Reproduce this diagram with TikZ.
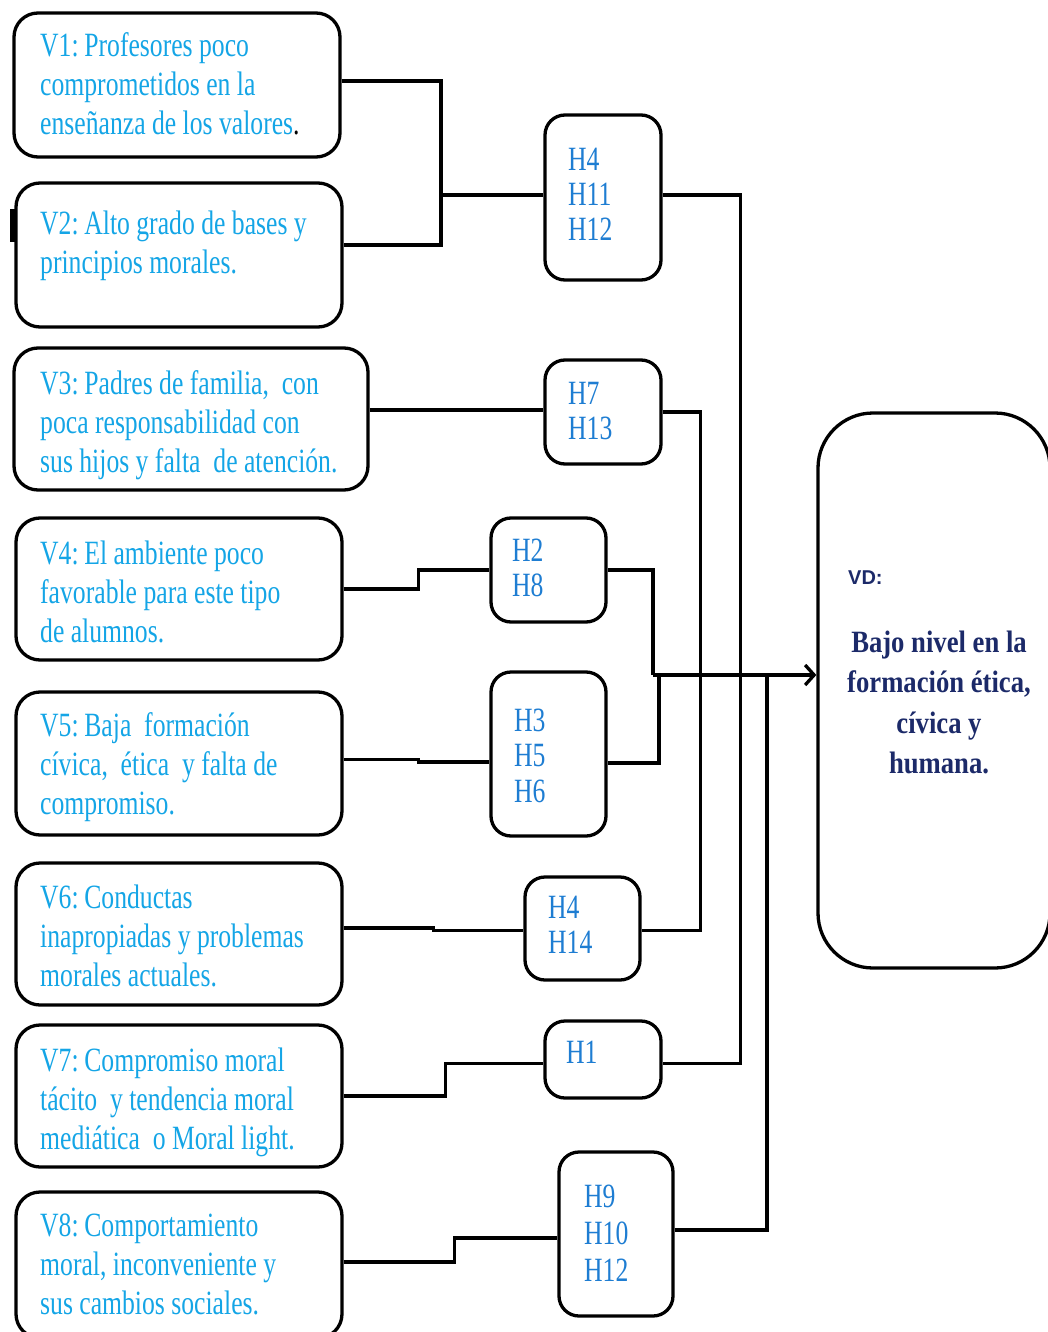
\documentclass[tikz,border=0pt]{standalone}
\usepackage{fontspec}
\setmainfont{Liberation Serif}
\newfontfamily\condserif[FakeStretch=0.755]{Liberation Serif}
\newfontfamily\condbold[FakeStretch=0.86]{Liberation Serif Bold}
\newfontfamily\vdsans{Liberation Sans Bold}
\usetikzlibrary{arrows.meta,calc}
\definecolor{vblue}{RGB}{20,165,230}
\definecolor{hblue}{RGB}{30,125,210}
\definecolor{navy}{RGB}{28,42,105}
\begin{document}
\begin{tikzpicture}[x=1pt,y=-1pt,
  vbox/.style={draw, line width=3.3pt, rounded corners=24pt, inner sep=0pt},
  hbox/.style={draw, line width=3.3pt, rounded corners=20pt, inner sep=0pt},
  conn/.style={line width=3.3pt},
  vtext/.style={anchor=base west, inner sep=0pt, text=vblue, font=\condserif\fontsize{34}{39}\selectfont},
  htext/.style={anchor=base west, inner sep=0pt, text=hblue, font=\condserif\fontsize{34}{35}\selectfont}]
\useasboundingbox (0,0) rectangle (1047,1332);

% left boxes
\node[vbox, minimum width=326pt, minimum height=144pt] (v1) at (177,85) {};
\node[vbox, minimum width=326pt, minimum height=144pt] (v2) at (179,255) {};
\node[vbox, minimum width=354pt, minimum height=142pt] (v3) at (191,419) {};
\node[vbox, minimum width=326pt, minimum height=142pt] (v4) at (179,589) {};
\node[vbox, minimum width=326pt, minimum height=143pt] (v5) at (179,763.5) {};
\node[vbox, minimum width=326pt, minimum height=142pt] (v6) at (179,934) {};
\node[vbox, minimum width=326pt, minimum height=142pt] (v7) at (179,1096) {};
\node[vbox, minimum width=326pt, minimum height=146pt] (v8) at (179,1265) {};
\fill (10,209) rectangle (15,242);

\node[vtext] (t1) at (40,57) {\parbox[t]{330pt}{V1:\,Profesores poco\\comprometidos en la\\enseñanza de los valores\textcolor{black}{.}}};
\node[vtext] (t2) at (40,235) {\parbox[t]{330pt}{V2:\,Alto grado de bases y\\principios morales.}};
\node[vtext] (t3) at (40,394) {\parbox[t]{330pt}{V3:\,Padres de familia,\ \ con\\poca responsabilidad con\\sus hijos y falta\ \ de atención.}};
\node[vtext] (t4) at (40,564) {\parbox[t]{330pt}{V4:\,El ambiente poco\\favorable para este tipo\\de alumnos.}};
\node[vtext] (t5) at (40,736) {\parbox[t]{330pt}{V5:\,Baja\ \ formación\\cívica,\ \ ética\ \ y falta de\\compromiso.}};
\node[vtext] (t6) at (40,908) {\parbox[t]{330pt}{V6:\,Conductas\\inapropiadas y problemas\\morales actuales.}};
\node[vtext] (t7) at (40,1071) {\parbox[t]{330pt}{V7:\,Compromiso moral\\tácito\ \ y tendencia moral\\mediática\ \ o Moral light.}};
\node[vtext] (t8) at (40,1236) {\parbox[t]{330pt}{V8:\,Comportamiento\\moral, inconveniente y\\sus cambios sociales.}};

% hypothesis boxes
\node[hbox, minimum width=116pt, minimum height=165pt] (ha) at (603,197.5) {};
\node[hbox, minimum width=116pt, minimum height=104pt] (hb) at (603,412) {};
\node[hbox, minimum width=115pt, minimum height=104pt] (hc) at (548.5,570) {};
\node[hbox, minimum width=115pt, minimum height=164pt] (hd) at (548.5,754) {};
\node[hbox, minimum width=115pt, minimum height=103pt] (he) at (582.5,928.5) {};
\node[hbox, minimum width=116pt, minimum height=77pt] (hf) at (603,1059.5) {};
\node[hbox, minimum width=114pt, minimum height=164pt] (hg) at (616,1234) {};

\node[htext] (ta) at (568,171) {\parbox[t]{80pt}{H4\\H11\\H12}};
\node[htext] (tb) at (568,404) {\parbox[t]{80pt}{H7\\H13}};
\node[htext] (tc) at (512,561) {\parbox[t]{80pt}{H2\\H8}};
\node[htext] (td) at (514,731) {\parbox[t]{80pt}{H3\\H5\\[1pt]H6}};
\node[htext] (te) at (548,918) {\parbox[t]{80pt}{H4\\H14}};
\node[htext] (tf) at (566,1063) {\parbox[t]{80pt}{H1}};
\node[htext] (tg) at (584,1207) {\parbox[t]{80pt}{H9\\[2pt]H10\\[2pt]H12}};

% dependent variable
\node[draw, line width=3.3pt, rounded corners=55pt, inner sep=0pt, minimum width=232pt, minimum height=555pt] (vd) at (934,690.5) {};
\node[anchor=base west, inner sep=0pt, text=navy, font=\vdsans\fontsize{20}{22}\selectfont] (vdl) at (848,584) {VD:};
\node[anchor=base, inner sep=0pt, text=navy, font=\condbold\fontsize{31}{40.5}\selectfont] (vdt) at (939,652)
  {\parbox[t]{220pt}{\centering Bajo nivel en la\\formación ética,\\cívica y\\humana.}};

% connectors
\coordinate (jA) at (441,195);
\coordinate (m) at (653,675);
\draw[conn] ([yshift=4pt]v1.east) -| (jA) |- ([yshift=10pt]v2.east);
\draw[conn] (jA) -- (ha.west |- jA);
\draw[conn] (ha.east |- jA) -| ([xshift=78pt,yshift=-4pt]hf.east) -- ([yshift=-4pt]hf.east);
\draw[conn] ([yshift=9pt]v3.east) -- ([yshift=2pt]hb.west);
\draw[conn] (hb.east) -| ([xshift=59pt,yshift=-2pt]he.east) -- ([yshift=-2pt]he.east);
\draw[conn] (v4.east) -- ++(75,0) |- (hc.west);
\draw[conn] ([yshift=4pt]v5.east) -- ++(75,0) |- ([yshift=-8pt]hd.west);
\draw[conn] (hc.east) -| (m);
\draw[conn] ([yshift=-9pt]hd.east) -| ($(m)+(6,0)$);
\draw[conn] ([yshift=6pt]v6.east) -- ++(90,0) |- ([yshift=-2pt]he.west);
\draw[conn] (v7.east) -- ++(102,0) |- ([yshift=-4pt]hf.west);
\draw[conn] ([yshift=3pt]v8.east) -- ++(111,0) |- ([yshift=-4pt]hg.west);
\draw[conn] ([yshift=4pt]hg.east) -| ($(m)+(114,0)$);
\draw[conn, -{Straight Barb[length=9pt,width=20pt]}] (m) -- (vd.west |- m);
\end{tikzpicture}
\end{document}
